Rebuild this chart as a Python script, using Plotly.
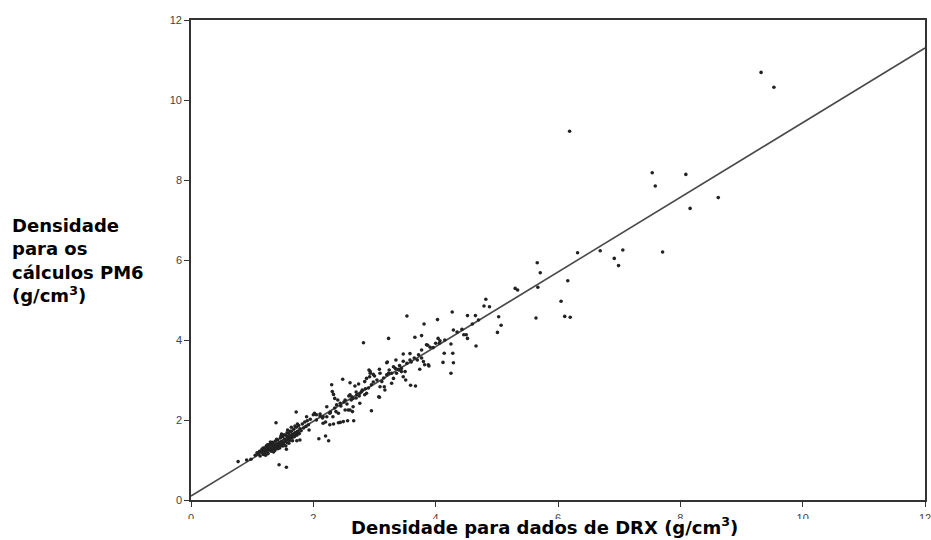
import plotly.graph_objects as go

# ---- data (estimated from reference) ----
pts_cluster = [
    (1.05,1.12),(1.08,1.18),(1.10,1.15),(1.12,1.22),(1.13,1.10),(1.15,1.20),(1.16,1.27),(1.18,1.14),
    (1.19,1.24),(1.20,1.30),(1.21,1.18),(1.22,1.26),(1.23,1.35),(1.24,1.22),(1.25,1.29),(1.26,1.16),
    (1.27,1.33),(1.28,1.25),(1.29,1.40),(1.30,1.28),(1.31,1.22),(1.32,1.36),(1.33,1.30),(1.34,1.44),
    (1.35,1.26),(1.36,1.38),(1.37,1.33),(1.38,1.47),(1.39,1.29),(1.40,1.40),(1.41,1.35),(1.42,1.50),
    (1.43,1.31),(1.44,1.43),(1.45,1.38),(1.46,1.55),(1.47,1.36),(1.48,1.46),(1.49,1.41),(1.50,1.58),
    (1.51,1.44),(1.52,1.38),(1.53,1.52),(1.54,1.47),(1.55,1.62),(1.56,1.50),(1.57,1.43),(1.58,1.58),
    (1.59,1.53),(1.60,1.66),(1.61,1.49),(1.62,1.60),(1.63,1.56),(1.64,1.72),(1.65,1.55),(1.66,1.64),
    (1.67,1.60),(1.68,1.77),(1.69,1.58),(1.70,1.68),(1.71,1.64),(1.72,1.82),(1.73,1.62),(1.74,1.72),
    (1.75,1.69),(1.76,1.86),(1.77,1.66),(1.78,1.78),(1.80,1.73),(1.82,1.90),(1.84,1.80),(1.86,1.95),
    (1.88,1.84),(1.90,1.98),(1.92,1.88),(1.95,2.02),
    (1.28,1.38),(1.33,1.42),(1.37,1.24),(1.42,1.28),(1.47,1.60),(1.52,1.63),(1.57,1.68),(1.62,1.72),
    (1.66,1.48),(1.45,1.30),(1.35,1.20),(1.25,1.38),(1.55,1.35),(1.60,1.42),(1.70,1.85),(1.74,1.90),
    (1.64,1.82),(1.58,1.75),(1.48,1.65),(1.18,1.30),(1.22,1.12),(1.30,1.45),(1.40,1.52),(1.50,1.35),
]
pts_low = [
    (0.77,0.96),(0.91,1.00),(0.98,1.02),(1.39,1.93),(1.72,2.20),(1.44,0.88),(1.56,0.82),(1.56,1.27),
    (1.78,1.50),(1.93,1.75),(1.73,1.48),(1.89,2.08),
]
pts_mid2 = [
    (2.09,1.53),(2.20,1.60),(2.25,1.48),(2.00,2.13),(2.02,2.17),(2.11,2.10),(2.16,2.08),(2.05,2.13),
    (2.11,2.15),(2.22,2.08),(2.27,2.17),(2.37,2.21),(2.16,1.92),(2.27,1.88),(2.33,1.90),(2.41,1.93),
    (2.20,1.95),(2.44,1.94),(2.49,1.96),(2.22,2.33),(2.38,2.38),(2.30,2.88),(2.31,2.71),(2.33,2.64),
    (2.35,2.54),(2.48,3.02),(2.60,2.93),(2.68,2.85),(2.74,2.90),(2.84,2.96),(2.56,1.98),(2.66,1.98),
    (2.95,2.23),(2.60,2.25),(2.63,2.58),(2.76,2.67),(2.84,2.63),(2.60,2.63),(2.65,2.54),(2.71,2.63),
    (2.79,2.71),(2.87,2.67),(2.44,2.42),(2.52,2.50),(2.57,2.25),(2.65,2.33),(2.41,2.17),(2.32,2.08),
    (2.76,2.42),(2.52,2.25),(2.64,2.21),(3.08,2.57),(2.82,3.93),(2.91,3.25),(2.93,3.17),(2.98,3.14),
    (2.87,3.04),(2.93,3.21),(2.92,3.08),
    (2.05,2.00),(2.15,2.05),(2.28,2.20),(2.35,2.30),(2.45,2.35),(2.50,2.45),(2.55,2.40),(2.62,2.50),
    (2.70,2.55),(2.75,2.60),(2.80,2.75),(2.85,2.78),(2.90,2.80),(2.95,2.88),(2.98,2.95),(2.70,2.70),
    (2.58,2.60),(2.40,2.50),
]
pts_mid3 = [
    (3.08,3.27),(3.20,3.43),(3.23,3.17),(3.04,3.00),(3.12,2.96),(3.16,2.83),(3.07,2.58),
    (3.23,4.04),(3.53,4.60),(3.81,4.40),(4.03,4.51),(3.66,4.07),(3.77,4.11),(4.04,4.04),(4.07,3.98),
    (3.87,3.87),(4.00,3.92),(3.96,3.81),(4.06,3.92),(3.58,3.66),(3.47,3.65),(3.77,3.55),(3.74,3.27),
    (3.82,3.38),(3.89,3.35),(3.21,3.45),(3.35,3.50),(3.47,3.47),(3.53,3.42),(3.58,3.50),(3.41,3.36),
    (3.44,3.29),(3.40,3.25),(3.34,3.29),(3.28,3.17),(3.20,3.13),(3.24,3.25),(3.09,3.17),(3.47,3.08),
    (3.51,3.00),(3.59,2.87),(3.67,2.85),(3.85,3.88),(3.91,3.82),(3.77,3.75),(3.72,3.63),(3.80,3.46),
    (3.88,3.38),(3.31,3.04),(3.28,2.92),(3.09,2.83),(3.17,2.75),(3.31,3.33),(3.36,3.17),(3.39,3.27),
    (3.44,3.21),(3.50,3.21),(3.15,3.05),(3.00,3.10),(3.60,3.45),(3.65,3.55),(3.70,3.50),
]
pts_mid4 = [
    (4.25,3.90),(4.14,3.67),(4.28,3.67),(4.12,3.44),(4.29,3.43),(4.25,3.17),(4.29,4.25),(4.43,4.27),
    (4.50,4.13),(4.52,4.04),(4.66,3.85),(4.27,4.70),(4.52,4.61),(4.65,4.61),(4.82,5.02),(4.79,4.85),
    (4.88,4.83),(5.01,4.19),(5.03,4.58),(5.07,4.37),(4.46,4.13),(4.15,4.00),(4.35,4.20),(4.60,4.40),
    (4.70,4.50),
]
pts_high = [
    (5.30,5.29),(5.34,5.25),(5.66,5.93),(5.71,5.68),(5.67,5.32),(6.16,5.48),(6.05,4.97),(5.64,4.55),
    (6.11,4.59),(6.20,4.57),(6.32,6.18),(6.69,6.23),(7.06,6.25),(6.92,6.04),(6.99,5.86),(7.71,6.20),
    (6.19,9.22),(7.54,8.18),(7.59,7.85),(8.09,8.14),(8.16,7.29),(8.62,7.56),(9.32,10.69),(9.53,10.32),
]
fit_x = [0, 12]
fit_y = [0.1, 11.3]
tick_vals = [0, 2, 4, 6, 8, 10, 12]

all_pts = pts_cluster + pts_low + pts_mid2 + pts_mid3 + pts_mid4 + pts_high
xs = [p[0] for p in all_pts]
ys = [p[1] for p in all_pts]

fig = go.Figure()
fig.add_trace(go.Scatter(x=fit_x, y=fit_y, mode="lines",
                         line=dict(color="#4a4a4a", width=1.6), hoverinfo="skip"))
fig.add_trace(go.Scatter(x=xs, y=ys, mode="markers",
                         marker=dict(size=3.6, color="#222222", line=dict(width=0))))

axis_common = dict(range=[0, 12], tickvals=tick_vals, showgrid=False, zeroline=False,
                   showline=True, linecolor="#333333", linewidth=1.6, mirror=True,
                   ticks="outside", ticklen=5, tickcolor="#333333", tickwidth=1.2,
                   automargin=False, ticklabeloverflow="allow",
                   tickfont=dict(family="Liberation Sans, Arial", size=11, color="#444444"))
fig.update_xaxes(**axis_common, ticklabelstandoff=2)
fig.update_yaxes(**axis_common)

fig.update_layout(
    width=931, height=540, showlegend=False,
    margin=dict(l=191, r=6, t=20, b=40, pad=0),
    paper_bgcolor="white", plot_bgcolor="white",
    shapes=[dict(type="rect", xref="paper", yref="paper", x0=-0.3, x1=1.02,
                 y0=-0.1, y1=-0.0396, fillcolor="white", line=dict(width=0), layer="above")],
    annotations=[
        dict(text="<b>Densidade<br>para os<br>cálculos PM6<br>(g/cm<sup>3</sup>)</b>",
             xref="paper", yref="paper", x=-0.247, y=0.5, xanchor="left", yanchor="middle",
             align="left", showarrow=False,
             font=dict(family="DejaVu Sans", size=18, color="black")),
        dict(text="<b>Densidade para dados de DRX (g/cm<sup>3</sup>)</b>",
             xref="paper", yref="paper", x=0.482, y=-0.055, xanchor="center", yanchor="middle",
             showarrow=False, font=dict(family="DejaVu Sans", size=18, color="black")),
    ],
)

fig.write_html("out.html")
